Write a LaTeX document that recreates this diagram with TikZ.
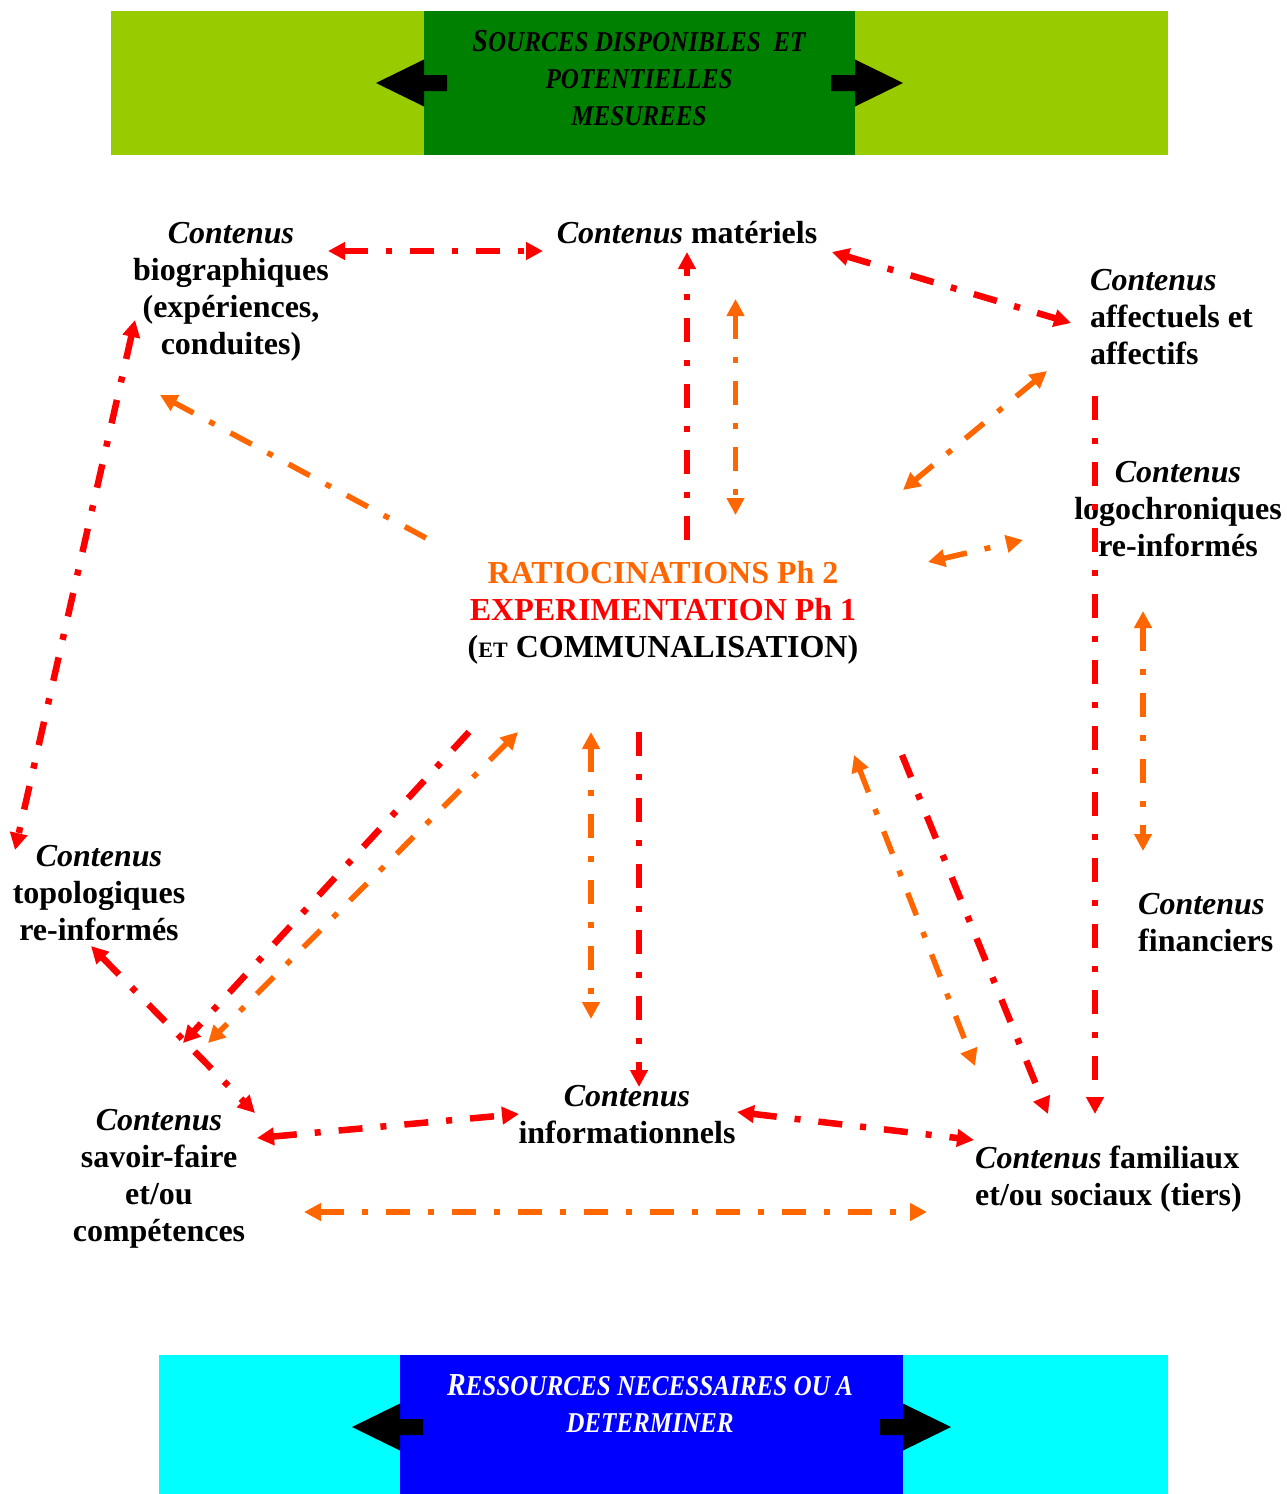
\documentclass[tikz,border=0pt]{standalone}
\usepackage{fontspec}
\usepackage{graphicx}
\setmainfont{Liberation Serif}
\usetikzlibrary{arrows.meta}

\definecolor{lime}{HTML}{99CC00}
\definecolor{dkgreen}{HTML}{008000}
\definecolor{rouge}{HTML}{FF0000}
\definecolor{orangeline}{HTML}{FF6600}
\definecolor{cyanband}{HTML}{00FFFF}
\definecolor{blueband}{HTML}{0000FF}

% banner lettering: narrow bold italic small capitals
\newcommand{\bigini}[1]{{\fontsize{32}{37}\selectfont #1}}
\newcommand{\squeeze}[1]{\scalebox{0.875}[1]{#1}}

\tikzset{
  >={Triangle[length=17pt,width=17pt]},
  lbl/.style={font=\fontsize{32}{37}\selectfont\bfseries, align=center, inner sep=0pt},
  bandtext/.style={font=\fontsize{28.7}{37}\selectfont\bfseries\itshape, align=center, inner sep=0pt},
  dashdot/.style={dash pattern=on 24pt off 18pt on 6pt off 18pt},
  redlink/.style={draw=rouge, line width=6.5pt, dashdot},
  orlink/.style={draw=orangeline, line width=5.5pt, dashdot},
}

\begin{document}
\begin{tikzpicture}[x=1pt,y=-1pt]
\useasboundingbox (0,0) rectangle (1286,1494);

% ---- top banner ----
\fill[lime] (111,11) rectangle (1168,155);
\fill[dkgreen] (424,11) rectangle (855,155);
\fill[black] (376,83) -- (424,59.5) -- (424,75) -- (447,75) -- (447,91) -- (424,91) -- (424,106.5) -- cycle;
\fill[black] (903,83) -- (855,59.5) -- (855,75) -- (831,75) -- (831,91) -- (855,91) -- (855,106.5) -- cycle;
\node[bandtext, text=black] (sources) at (639,78)
  {\squeeze{\bigini{S}OURCES DISPONIBLES\ \ ET}\\\squeeze{POTENTIELLES}\\\squeeze{MESUREES}};

% ---- bottom banner ----
\fill[cyanband] (159,1355) rectangle (1168,1494);
\fill[blueband] (400,1355) rectangle (903,1494);
\fill[black] (352,1427) -- (400,1403.5) -- (400,1419) -- (423,1419) -- (423,1435) -- (400,1435) -- (400,1450.5) -- cycle;
\fill[black] (951,1427) -- (903,1403.5) -- (903,1419) -- (880,1419) -- (880,1435) -- (903,1435) -- (903,1450.5) -- cycle;
\node[bandtext, text=white] (ressources) at (650,1404)
  {\squeeze{\bigini{R}ESSOURCES NECESSAIRES OU A}\\\squeeze{DETERMINER}};

% ---- contents ----
\node[lbl] (bio) at (231,291.5) {\textit{Contenus}\\biographiques\\(expériences,\\conduites)};
\node[lbl] (mat) at (687,232.5) {\textit{Contenus} matériels};
\node[lbl, align=left, anchor=west] (aff) at (1090,317.5) {\textit{Contenus}\\affectuels et\\affectifs};
\node[lbl] (logo) at (1178,509.5) {\textit{Contenus}\\logochroniques\\re-informés};
\node[lbl] (centre) at (663,613)
  {\textcolor{orangeline}{RATIOCINATIONS Ph 2}\\\textcolor{rouge}{EXPERIMENTATION Ph 1}\\({\fontsize{22}{37}\selectfont ET} COMMUNALISATION)};
\node[lbl] (topo) at (99,893.5) {\textit{Contenus}\\topologiques\\re-informés};
\node[lbl, align=left, anchor=west] (fin) at (1138,923) {\textit{Contenus}\\financiers};
\node[lbl] (savoir) at (159,1179) {\textit{Contenus}\\savoir-faire\\et/ou\\compétences};
\node[lbl] (info) at (627,1115) {\textit{Contenus}\\informationnels};
\node[lbl, align=left, anchor=west] (fam) at (975,1179.5) {\textit{Contenus} familiaux\\et/ou sociaux (tiers)};

% ---- connector end points ----
\coordinate (bioR) at (328,251);   \coordinate (matL) at (543,251);
\coordinate (matB) at (687,252);   \coordinate (cenT) at (687,540);
\coordinate (oT) at (735.5,299);   \coordinate (oB) at (735.5,515);
\coordinate (matR) at (832,252);   \coordinate (affL) at (1071,323);
\coordinate (affB) at (1047,371);  \coordinate (cenNE) at (903,490);
\coordinate (cenE) at (928,562);   \coordinate (logoW) at (1023,540);
\coordinate (affS) at (1095,396);  \coordinate (famN) at (1095,1114);
\coordinate (logoS) at (1143,611); \coordinate (finN) at (1143,851);
\coordinate (cenNW) at (426,538);  \coordinate (bioS) at (160,395);
\coordinate (bioSW) at (135,320);  \coordinate (topoN) at (15,850);
\coordinate (cenSW) at (469,732);  \coordinate (savN) at (183,1043);
\coordinate (cenSWo) at (518,732); \coordinate (savNo) at (208,1043);
\coordinate (topoS) at (91,946);   \coordinate (savNE) at (255,1113);
\coordinate (cenSo) at (591,732);  \coordinate (infoNo) at (591,1019);
\coordinate (cenS) at (639,732);   \coordinate (infoN) at (639,1087);
\coordinate (cenSEo) at (854,755); \coordinate (famNo) at (975,1066);
\coordinate (cenSE) at (902,755);  \coordinate (famNW) at (1048,1114);
\coordinate (savE) at (257,1138);  \coordinate (infoW) at (519,1114);
\coordinate (infoE) at (737,1112); \coordinate (famW) at (974,1140);
\coordinate (savR) at (304,1212);  \coordinate (famL) at (927,1212);

% ---- connectors ----
\draw[redlink, <->] (bioR) -- (matL);
\draw[redlink, ->] (cenT) -- (matB);
\draw[orlink, <->] (oT) -- (oB);
\draw[redlink, <->] (matR) -- (affL);
\draw[orlink, <->] (affB) -- (cenNE);
\draw[orlink, <->] (cenE) -- (logoW);
\draw[redlink, ->] (affS) -- (famN);
\draw[orlink, <->] (logoS) -- (finN);
\draw[orlink, ->] (cenNW) -- (bioS);
\draw[redlink, <->] (bioSW) -- (topoN);
\draw[redlink, ->] (cenSW) -- (savN);
\draw[orlink, <->] (cenSWo) -- (savNo);
\draw[redlink, <->] (topoS) -- (savNE);
\draw[orlink, <->] (cenSo) -- (infoNo);
\draw[redlink, ->] (cenS) -- (infoN);
\draw[orlink, <->] (cenSEo) -- (famNo);
\draw[redlink, ->] (cenSE) -- (famNW);
\draw[redlink, <->] (savE) -- (infoW);
\draw[redlink, <->] (infoE) -- (famW);
\draw[orlink, <->] (savR) -- (famL);
\end{tikzpicture}
\end{document}
